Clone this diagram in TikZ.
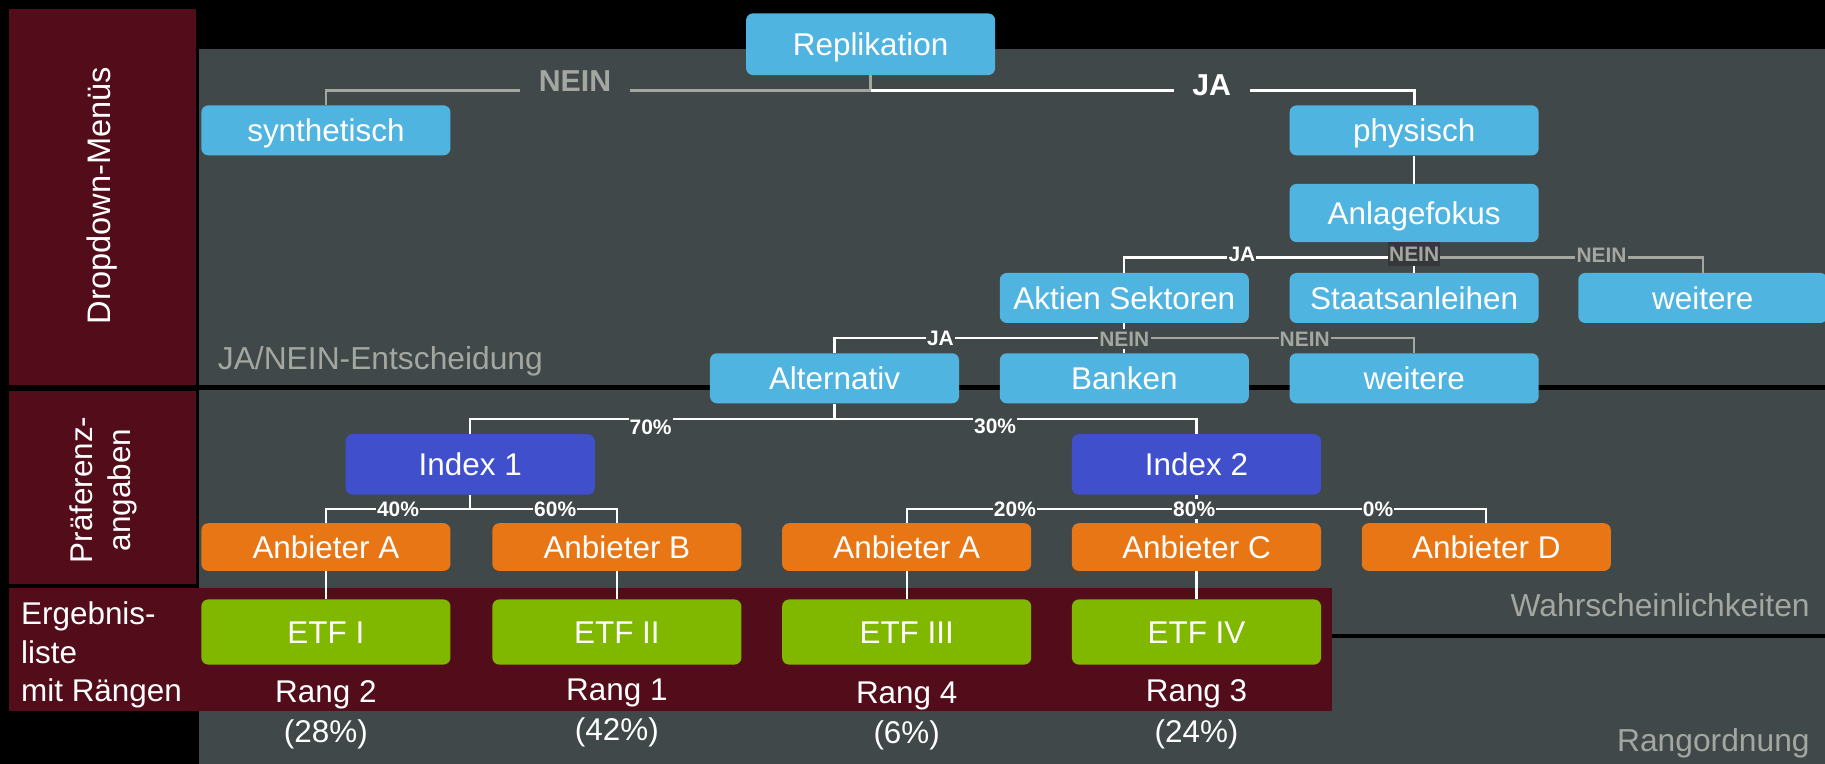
\documentclass[tikz,border=0pt]{standalone}
\usepackage{fontspec}
\setmainfont{Liberation Sans}
\usepackage{tikz}
\usetikzlibrary{positioning}
\definecolor{panelred}{RGB}{83,12,25}
\definecolor{panelgray}{RGB}{64,72,74}
\definecolor{optblue}{RGB}{80,180,224}
\definecolor{idxblue}{RGB}{64,80,204}
\definecolor{anborange}{RGB}{232,118,20}
\definecolor{etfgreen}{RGB}{128,184,0}
\definecolor{txtgray}{RGB}{164,166,160}
\definecolor{neinbox}{RGB}{52,56,58}
\tikzstyle{box}=[rounded corners=6pt, text=white, minimum width=214pt,
                minimum height=43pt, inner sep=0pt, text height=19pt,
                text depth=0pt, font=\fontsize{27}{32}\selectfont]
\tikzstyle{opt}=[box, fill=optblue]
\tikzstyle{idx}=[box, fill=idxblue, minimum height=52pt]
\tikzstyle{anb}=[box, fill=anborange, minimum height=41pt]
\tikzstyle{etf}=[box, fill=etfgreen, minimum height=56pt]
\tikzstyle{ja}=[draw=white, line width=1.8pt]
\tikzstyle{nein}=[draw=txtgray, line width=1.8pt]
\tikzstyle{slabel}=[fill=panelgray, inner xsep=1pt, inner ysep=2pt, text height=13pt,
                text depth=0pt, font=\fontsize{18}{18}\selectfont\bfseries]
\tikzstyle{blabel}=[fill=panelgray, inner xsep=16pt, inner ysep=3pt, text height=18.6pt,
                text depth=0pt, font=\fontsize{26}{26}\selectfont\bfseries]
\tikzstyle{side}=[text=white, inner sep=0pt, font=\fontsize{27}{33}\selectfont]
\tikzstyle{rowname}=[text=txtgray, inner sep=0pt, font=\fontsize{27.3}{30}\selectfont]

\begin{document}
\begin{tikzpicture}[x=1pt,y=-1pt]
\useasboundingbox (0,0) rectangle (1568,656);
\fill[black] (0,0) rectangle (1568,656);
% Bereiche
\fill[panelgray] (171,42) rectangle (1568,331);
\fill[panelgray] (171,335) rectangle (1568,545);
\fill[panelgray] (171,548) rectangle (1568,656);
\fill[panelred] (8,8) rectangle (168,331);
\fill[panelred] (8,336) rectangle (168,502);
\fill[panelred] (8,505) rectangle (1144,611);

\node[side, rotate=90, font=\fontsize{28}{33}\selectfont] (dropdown) at (88,168) {Dropdown-Menüs};
\node[side, rotate=90, align=center] (praef) at (89,421) {Präferenz-\\angaben};
\node[side, anchor=north west, align=left] (ergebnis) at (18,517) {Ergebnis-\\liste\\mit Rängen};
\node[rowname, anchor=west] (janein) at (187,310) {JA/NEIN-Entscheidung};
\node[rowname, anchor=east] (wahr) at (1555,520) {Wahrscheinlichkeiten};
\node[rowname, anchor=east] (rang) at (1555,639) {Rangordnung};

% Auswahl
\node[opt, minimum height=53pt] (repl) at (748,38) {Replikation};
\node[opt] (synth) at (280,112) {synthetisch};
\node[opt] (phys) at (1215,112) {physisch};
\node[opt, minimum height=50pt] (anl) at (1215,183) {Anlagefokus};
\node[opt] (akt) at (966,256) {Aktien Sektoren};
\node[opt] (staat) at (1215,256) {Staatsanleihen};
\node[opt] (weit1) at (1463,256) {weitere};
\node[opt] (alt) at (717,325) {Alternativ};
\node[opt] (bank) at (966,325) {Banken};
\node[opt] (weit2) at (1215,325) {weitere};
\node[idx] (idx1) at (404,399) {Index 1};
\node[idx] (idx2) at (1028,399) {Index 2};
\node[anb] (anbA) at (280,470) {Anbieter A};
\node[anb] (anbB) at (530,470) {Anbieter B};
\node[anb] (anbAz) at (779,470) {Anbieter A};
\node[anb] (anbC) at (1028,470) {Anbieter C};
\node[anb] (anbD) at (1277,470) {Anbieter D};
\node[etf] (etf1) at (280,543) {ETF I};
\node[etf] (etf2) at (530,543) {ETF II};
\node[etf] (etf3) at (779,543) {ETF III};
\node[etf] (etf4) at (1028,543) {ETF IV};

% Verbindungen
\draw[nein, line width=2.4pt] (repl.south) -- ++(0,13) -| (synth.north);
\draw[ja, line width=2.4pt] ([yshift=-13pt]repl.south) -| (phys.north);
\draw[ja] (phys) -- (anl);
\draw[ja] (anl.south) -- (staat.north);
\draw[ja] ([yshift=-13pt]anl.south) -| (akt.north);
\draw[nein] ([yshift=-13pt]anl.south) -| (weit1.north);
\draw[ja] (akt) -- (bank);
\draw[ja] ([yshift=-13pt]akt.south) -| (alt.north);
\draw[nein] ([yshift=-13pt]akt.south) -| (weit2.north);
\draw[ja] (alt.south) -- ++(0,13) -| (idx1.north);
\draw[ja] ([yshift=-13pt]alt.south) -| (idx2.north);
\draw[ja] (idx1.south) -- ++(0,12) -| (anbA.north);
\draw[ja] ([yshift=-12pt]idx1.south) -| (anbB.north);
\draw[ja] (idx2) -- (anbC);
\draw[ja] ([yshift=-12pt]idx2.south) -| (anbAz.north);
\draw[ja] ([yshift=-12pt]idx2.south) -| (anbD.north);
\draw[ja] (anbA) -- (etf1);
\draw[ja] (anbB) -- (etf2);
\draw[ja] (anbAz) -- (etf3);
\draw[ja] (anbC) -- (etf4);

\node[blabel, text=txtgray] (nein0) at (494,69) {NEIN};
\node[blabel, text=white] (ja0) at (1041,73) {JA};
\node[slabel, text=white] (ja1) at (1067,218) {JA};
\node[slabel, text=txtgray, fill=neinbox, inner ysep=4pt] (nein1) at (1215,218) {NEIN};
\node[slabel, text=txtgray] (nein2) at (1376,219) {NEIN};
\node[slabel, text=white] (ja2) at (808,290) {JA};
\node[slabel, text=txtgray] (nein3) at (966,291) {NEIN};
\node[slabel, text=txtgray] (nein4) at (1121,291) {NEIN};
\node[slabel, text=white] (p70) at (559,367) {70\%};
\node[slabel, text=white] (p30) at (855,366) {30\%};
\node[slabel, text=white] (p40) at (342,437) {40\%};
\node[slabel, text=white] (p60) at (477,437) {60\%};
\node[slabel, text=white] (p20) at (872,437) {20\%};
\node[slabel, text=white] (p80) at (1026,437) {80\%};
\node[slabel, text=white] (p0) at (1184,437) {0\%};

% Raenge
\node[side] (rang2) at (280,597) {Rang 2};
\node[side] (anteil2) at (280,631) {(28\%)};
\node[side] (rang1) at (530,595) {Rang 1};
\node[side] (anteil1) at (530,629) {(42\%)};
\node[side] (rang4) at (779,598) {Rang 4};
\node[side] (anteil4) at (779,632) {(6\%)};
\node[side] (rang3) at (1028,596) {Rang 3};
\node[side] (anteil3) at (1028,631) {(24\%)};
\end{tikzpicture}
\end{document}
